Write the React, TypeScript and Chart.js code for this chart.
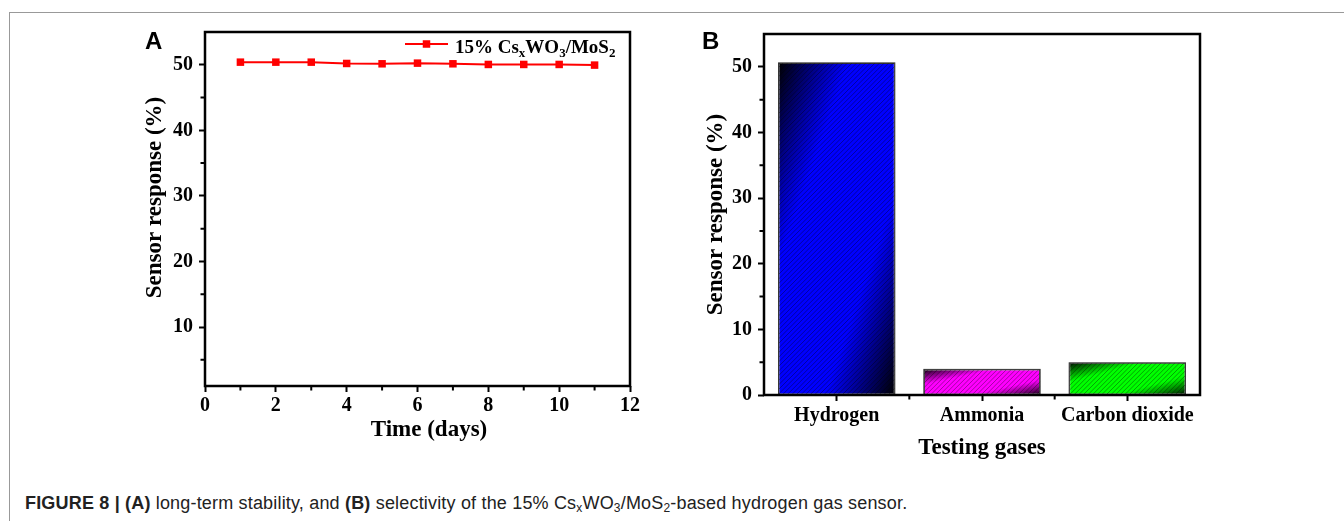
import React, { useEffect, useRef } from "react";
import { Chart, registerables } from "chart.js";

Chart.register(...registerables);

const SERIF = '"Liberation Serif", "Times New Roman", Times, serif';
const SANS = '"Liberation Sans", Arial, Helvetica, sans-serif';

// ---------- Panel A data ----------
const days = [1, 2, 3, 4, 5, 6, 7, 8, 9, 10, 11];
const stabilityResponse = [50.4, 50.4, 50.4, 50.2, 50.15, 50.25, 50.15, 50.05, 50.05, 50.05, 49.95];
const timeMajorTicks = [0, 2, 4, 6, 8, 10, 12];
const timeMinorTicks = [1, 3, 5, 7, 9, 11];
const responseMajorTicksA = [10, 20, 30, 40, 50];
const responseMinorTicksA = [5, 15, 25, 35, 45];
const legendTexts = ["15% Cs", "x", "WO", "3", "/MoS", "2"];
const legendIsSub = [false, true, false, true, false, true];

// ---------- Panel B data ----------
const gases = ["Hydrogen", "Ammonia", "Carbon dioxide"];
const selectivityResponse = [50.6, 3.9, 4.9];
const responseMajorTicksB = [0, 10, 20, 30, 40, 50];
const responseMinorTicksB = [5, 15, 25, 35, 45];
const gasBoundaryTicks = [0.5, 1.5];
const barColors = ["#0000ff", "#ff00ff", "#00ff00"];
const barShades = ["#000000", "#140014", "#001400"];

const boldFont = (size: number) => ({ family: SERIF, weight: "bold" as const, size });

// ---------- plugins ----------
const frameBoxPlugin = {
  id: "frameBox",
  afterDraw(chart: any) {
    const { ctx, chartArea: a } = chart;
    ctx.save();
    ctx.strokeStyle = "#000";
    ctx.lineWidth = 2.5;
    ctx.strokeRect(a.left, a.top, a.right - a.left, a.bottom - a.top);
    ctx.restore();
  },
};

const minorTicksPlugin = {
  id: "minorTicks",
  afterDraw(chart: any, _args: any, opts: any) {
    const { ctx, chartArea: a, scales } = chart;
    const len = 3.5;
    ctx.save();
    ctx.strokeStyle = "#000";
    ctx.lineWidth = 2;
    ctx.beginPath();
    (opts.x || []).forEach((v: number) => {
      const px = scales.x.getPixelForValue(v);
      ctx.moveTo(px, a.bottom);
      ctx.lineTo(px, a.bottom + len + 1);
    });
    (opts.y || []).forEach((v: number) => {
      const py = scales.y.getPixelForValue(v);
      ctx.moveTo(a.left, py);
      ctx.lineTo(a.left - len - 1, py);
    });
    ctx.stroke();
    ctx.restore();
  },
};

const subLegendPlugin = {
  id: "subLegend",
  afterDraw(chart: any) {
    const { ctx, chartArea: a } = chart;
    const ds = chart.data.datasets[0];
    const lineY = a.top + 12;
    const x1 = a.right - 225;
    const x2 = a.right - 182;
    ctx.save();
    ctx.strokeStyle = ds.borderColor;
    ctx.lineWidth = 2;
    ctx.beginPath();
    ctx.moveTo(x1, lineY);
    ctx.lineTo(x2, lineY);
    ctx.stroke();
    ctx.fillStyle = ds.borderColor;
    const m = 7.5;
    ctx.fillRect((x1 + x2) / 2 - m / 2, lineY - m / 2, m, m);
    ctx.fillStyle = "#000";
    ctx.textBaseline = "alphabetic";
    ctx.textAlign = "left";
    let tx = a.right - 175;
    const base = a.top + 21;
    legendTexts.forEach((t, i) => {
      const sub = legendIsSub[i];
      ctx.font = `bold ${sub ? 13 : 19}px ${SERIF}`;
      ctx.fillText(t, tx, sub ? base + 4 : base);
      tx += ctx.measureText(t).width;
    });
    ctx.restore();
  },
};

const hatchPlugin = {
  id: "hatch",
  afterDatasetsDraw(chart: any) {
    const { ctx } = chart;
    const meta = chart.getDatasetMeta(0);
    meta.data.forEach((bar: any) => {
      const { x, y, base, width } = bar.getProps(["x", "y", "base", "width"], true);
      const left = x - width / 2;
      const top = Math.min(y, base);
      const bottom = Math.max(y, base);
      const h = bottom - top;
      ctx.save();
      ctx.beginPath();
      ctx.rect(left, top, width, h);
      ctx.clip();
      ctx.strokeStyle = "rgba(0,0,0,0.45)";
      ctx.lineWidth = 0.8;
      ctx.beginPath();
      for (let k = -h; k < width; k += 4.6) {
        ctx.moveTo(left + k, bottom);
        ctx.lineTo(left + k + h, top);
      }
      ctx.stroke();
      ctx.restore();
      ctx.save();
      ctx.strokeStyle = "#333";
      ctx.lineWidth = 1;
      ctx.strokeRect(left, top, width, h);
      ctx.restore();
    });
  },
};

function diagGradient(ctx: CanvasRenderingContext2D, x0: number, y0: number, w: number, h: number, base: string, dark: string) {
  const nx = 1 / (2 * w);
  const ny = 1 / (2 * h);
  const n2 = nx * nx + ny * ny;
  const g = ctx.createLinearGradient(x0, y0, x0 + nx / n2, y0 + ny / n2);
  g.addColorStop(0, dark);
  g.addColorStop(0.3, base);
  g.addColorStop(0.7, base);
  g.addColorStop(1, dark);
  return g;
}

const axisGrid = { drawOnChartArea: false, tickLength: 6, tickWidth: 2, tickColor: "#000" };

function PanelA() {
  const ref = useRef<HTMLCanvasElement>(null);
  useEffect(() => {
    const chart = new Chart(ref.current as HTMLCanvasElement, {
      type: "line",
      data: {
        datasets: [
          {
            label: "15% CsxWO3/MoS2",
            data: days.map((d, i) => ({ x: d, y: stabilityResponse[i] })),
            borderColor: "#ff0000",
            backgroundColor: "#ff0000",
            borderWidth: 2,
            pointStyle: "rect",
            pointRadius: 5.3,
            pointBorderWidth: 0,
            pointBackgroundColor: "#ff0000",
            tension: 0,
          },
        ],
      },
      options: {
        responsive: false,
        animation: false,
        devicePixelRatio: 1,
        layout: { padding: { top: 16, right: 30, left: 0, bottom: 0 } },
        plugins: {
          legend: { display: false },
          tooltip: { enabled: false },
          minorTicks: { x: timeMinorTicks, y: responseMinorTicksA },
        } as any,
        scales: {
          x: {
            type: "linear",
            min: 0,
            max: 12,
            afterBuildTicks: (s: any) => {
              s.ticks = timeMajorTicks.map((v) => ({ value: v }));
            },
            afterFit: (s: any) => {
              s.height = 74;
            },
            grid: axisGrid,
            border: { display: false },
            ticks: { color: "#000", font: boldFont(20), padding: 2, maxRotation: 0, autoSkip: false },
            title: {
              display: true,
              text: "    Time (days)",
              color: "#000",
              font: boldFont(23),
              padding: { top: 0, bottom: 16 },
            },
          },
          y: {
            type: "linear",
            min: 1,
            max: 55,
            afterBuildTicks: (s: any) => {
              s.ticks = responseMajorTicksA.map((v) => ({ value: v }));
            },
            afterFit: (s: any) => {
              s.width = 75;
            },
            grid: axisGrid,
            border: { display: false },
            ticks: { color: "#000", font: boldFont(20), padding: 6 },
            title: {
              display: true,
              text: "    Sensor response (%)",
              color: "#000",
              font: boldFont(23),
              padding: { top: 11, bottom: 0 },
            },
          },
        },
      },
      plugins: [frameBoxPlugin, minorTicksPlugin, subLegendPlugin],
    } as any);
    return () => chart.destroy();
  }, []);
  return (
    <canvas
      ref={ref}
      width={530}
      height={446}
      style={{ position: "absolute", left: 130, top: 14, width: 530, height: 446 }}
    />
  );
}

function PanelB() {
  const ref = useRef<HTMLCanvasElement>(null);
  useEffect(() => {
    const chart = new Chart(ref.current as HTMLCanvasElement, {
      type: "bar",
      data: {
        labels: gases,
        datasets: [
          {
            label: "Sensor response",
            data: selectivityResponse,
            backgroundColor: (c: any) => {
              const i = c.dataIndex;
              const chartObj = c.chart;
              if (!chartObj.chartArea || c.type !== "data") return barColors[i];
              const xs = chartObj.scales.x;
              const ys = chartObj.scales.y;
              const cx = xs.getPixelForValue(i);
              const w = (xs.width / gases.length) * 0.8;
              const top = ys.getPixelForValue(selectivityResponse[i]);
              const bottom = ys.getPixelForValue(0);
              return diagGradient(chartObj.ctx, cx - w / 2, top, w, bottom - top, barColors[i], barShades[i]);
            },
            borderColor: "#333",
            borderWidth: 1,
            borderSkipped: false,
            categoryPercentage: 1,
            barPercentage: 0.8,
          },
        ],
      },
      options: {
        responsive: false,
        animation: false,
        devicePixelRatio: 1,
        layout: { padding: { top: 20, right: 30, left: 0, bottom: 0 } },
        plugins: {
          legend: { display: false },
          tooltip: { enabled: false },
          minorTicks: { x: gasBoundaryTicks, y: responseMinorTicksB },
        } as any,
        scales: {
          x: {
            type: "category",
            afterFit: (s: any) => {
              s.height = 71;
            },
            grid: { ...axisGrid, offset: false },
            border: { display: false },
            ticks: { color: "#000", font: boldFont(20), padding: 3, maxRotation: 0, autoSkip: false },
            title: {
              display: true,
              text: "Testing gases",
              color: "#000",
              font: boldFont(23),
              padding: { top: 0, bottom: 4 },
            },
          },
          y: {
            type: "linear",
            min: 0,
            max: 55,
            afterBuildTicks: (s: any) => {
              s.ticks = responseMajorTicksB.map((v) => ({ value: v }));
            },
            afterFit: (s: any) => {
              s.width = 74;
            },
            grid: axisGrid,
            border: { display: false },
            ticks: { color: "#000", font: boldFont(20), padding: 6 },
            title: {
              display: true,
              text: "Sensor response (%)",
              color: "#000",
              font: boldFont(23),
              padding: { top: 12, bottom: 0 },
            },
          },
        },
      },
      plugins: [hatchPlugin, frameBoxPlugin, minorTicksPlugin],
    } as any);
    return () => chart.destroy();
  }, []);
  return (
    <canvas
      ref={ref}
      width={540}
      height={452}
      style={{ position: "absolute", left: 690, top: 14, width: 540, height: 452 }}
    />
  );
}

const Sub = ({ children }: { children: React.ReactNode }) => (
  <span style={{ fontSize: 12, position: "relative", top: 3 }}>{children}</span>
);

export default function App() {
  const panelLabel: React.CSSProperties = {
    position: "absolute",
    font: `bold 24px ${SANS}`,
    lineHeight: "24px",
    color: "#000",
  };
  return (
    <div
      style={{
        position: "absolute",
        left: 0,
        top: 0,
        width: 1344,
        height: 521,
        overflow: "hidden",
        background: "#fff",
      }}
    >
      <div style={{ position: "absolute", left: 9, top: 12, width: 1335, height: 0, borderTop: "1px solid #999" }} />
      <div style={{ position: "absolute", left: 9, top: 12, width: 0, height: 509, borderLeft: "1px solid #999" }} />
      <PanelA />
      <PanelB />
      <div style={{ ...panelLabel, left: 145, top: 29 }}>A</div>
      <div style={{ ...panelLabel, left: 702, top: 29 }}>B</div>
      <div
        style={{
          position: "absolute",
          left: 25,
          top: 494,
          font: `18px ${SANS}`,
          lineHeight: "18px",
          letterSpacing: "0.18px",
          color: "#222",
          whiteSpace: "nowrap",
        }}
      >
        <b>FIGURE 8 | (A)</b> long-term stability, and <b>(B)</b> selectivity of the 15% Cs<Sub>x</Sub>WO<Sub>3</Sub>/MoS
        <Sub>2</Sub>-based hydrogen gas sensor.
      </div>
    </div>
  );
}
